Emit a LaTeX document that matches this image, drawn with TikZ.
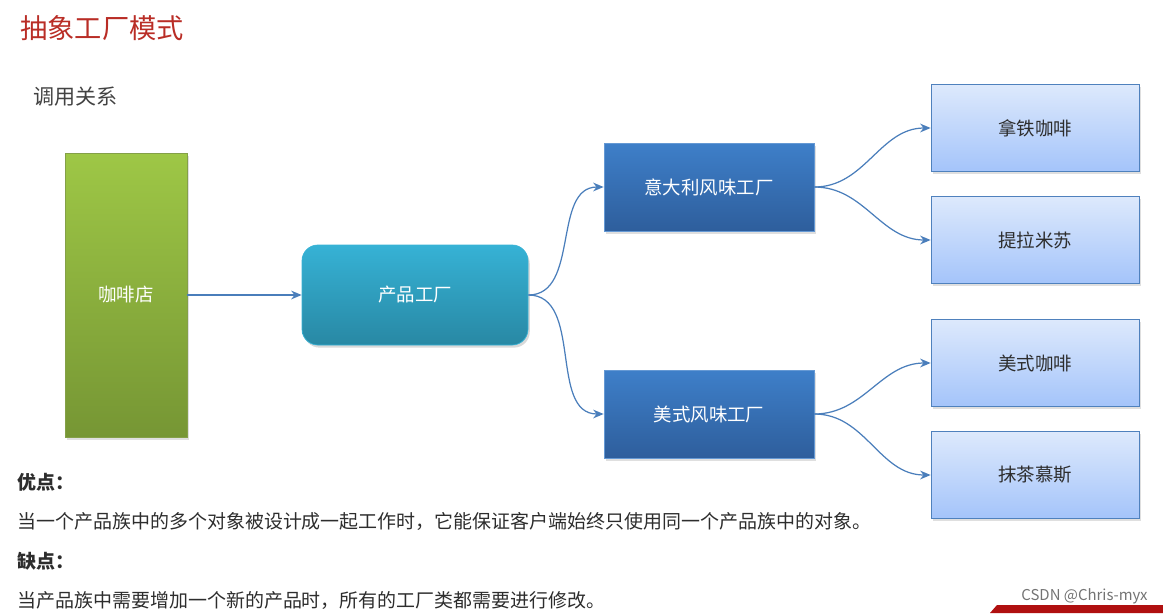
\documentclass[tikz,border=0pt]{standalone}
\usepackage{fontspec}
\setmainfont{Noto Sans CJK SC}
\usetikzlibrary{arrows.meta,shadows}

\definecolor{titlered}{RGB}{185,45,38}
\definecolor{darktext}{RGB}{45,45,45}
\definecolor{shoptop}{RGB}{158,199,70}
\definecolor{shopbot}{RGB}{118,150,52}
\definecolor{planttop}{RGB}{54,178,213}
\definecolor{plantbot}{RGB}{40,136,164}
\definecolor{brandtop}{RGB}{62,127,201}
\definecolor{brandbot}{RGB}{46,94,156}
\definecolor{itemtop}{RGB}{221,233,252}
\definecolor{itembot}{RGB}{164,196,250}
\definecolor{itemline}{RGB}{79,129,189}
\definecolor{linkblue}{RGB}{74,126,187}
\definecolor{bannerred}{RGB}{176,16,16}

\begin{document}
\begin{tikzpicture}[x=0.02cm,y=-0.02cm,
  boxtext/.style={inner sep=0pt,align=center,font=\fontsize{10.5}{12}\selectfont},
  shop/.style={boxtext,draw=shopbot!90!white,top color=shoptop,bottom color=shopbot,
    text=white,minimum width=122*0.02cm,minimum height=284*0.02cm,
    drop shadow={shadow xshift=1pt,shadow yshift=-1.5pt,opacity=0.25}},
  plant/.style={boxtext,rounded corners=9pt,draw=planttop,top color=planttop,bottom color=plantbot,
    text=white,minimum width=226*0.02cm,minimum height=100*0.02cm,
    drop shadow={shadow xshift=1pt,shadow yshift=-1.5pt,opacity=0.3}},
  brand/.style={boxtext,draw=brandtop!80!white,top color=brandtop,bottom color=brandbot,
    text=white,minimum width=210*0.02cm,minimum height=88*0.02cm,
    drop shadow={shadow xshift=1pt,shadow yshift=-1.5pt,opacity=0.25}},
  item/.style={boxtext,draw=itemline,top color=itemtop,bottom color=itembot,
    text=darktext,minimum width=208*0.02cm,minimum height=87*0.02cm,
    drop shadow={shadow xshift=1pt,shadow yshift=-1.5pt,opacity=0.25}},
  link/.style={draw=linkblue,line width=0.7pt,-{Stealth[length=6pt,width=5pt]}},
  note/.style={anchor=west,inner sep=0pt,text=darktext,font=\fontsize{10.8}{13}\selectfont}]

\useasboundingbox (0,0) rectangle (1163,613);

% headings
\node[anchor=west,inner sep=0pt,text=titlered,font=\fontsize{15.5}{18}\selectfont] (title) at (20,28) {抽象工厂模式};
\node[anchor=west,inner sep=0pt,text=darktext!90!white,font=\fontsize{12}{14}\selectfont] (calls) at (33,97) {调用关系};

% boxes
\node[shop] (cafe) at (126,295) {咖啡店};
\node[plant] (plant) at (415,295) {产品工厂};
\node[brand] (italy) at (709,187) {意大利风味工厂};
\node[brand] (usa) at (709,414) {美式风味工厂};
\node[item] (latte) at (1035,128) {拿铁咖啡};
\node[item] (tiramisu) at (1035,240) {提拉米苏};
\node[item] (americano) at (1035,363) {美式咖啡};
\node[item] (mousse) at (1035,475) {抹茶慕斯};

% connectors
\draw[link] (cafe.east) -- (plant.west);
\draw[link] (plant.east) to[out=0,in=180] (italy.west);
\draw[link] (plant.east) to[out=0,in=180] (usa.west);
\draw[link] (italy.east) to[out=0,in=180] (latte.west);
\draw[link] (italy.east) to[out=0,in=180] (tiramisu.west);
\draw[link] (usa.east) to[out=0,in=180] (americano.west);
\draw[link] (usa.east) to[out=0,in=180] (mousse.west);

% notes
\node[note,font=\fontsize{10.8}{13}\selectfont\bfseries] (pros) at (17,482) {优点：};
\node[note] (prostext) at (17,521) {当一个产品族中的多个对象被设计成一起工作时，它能保证客户端始终只使用同一个产品族中的对象。};
\node[note,font=\fontsize{10.8}{13}\selectfont\bfseries] (cons) at (17,561) {缺点：};
\node[note] (constext) at (17,600) {当产品族中需要增加一个新的产品时，所有的工厂类都需要进行修改。};

\node[anchor=east,inner sep=0pt,text=black!55,font=\fontsize{8.5}{10}\selectfont] (mark) at (1148,596) {CSDN @Chris-myx};
\fill[bannerred] (990,613) -- (997,605) -- (1163,605) -- (1163,613) -- cycle;
\end{tikzpicture}
\end{document}
